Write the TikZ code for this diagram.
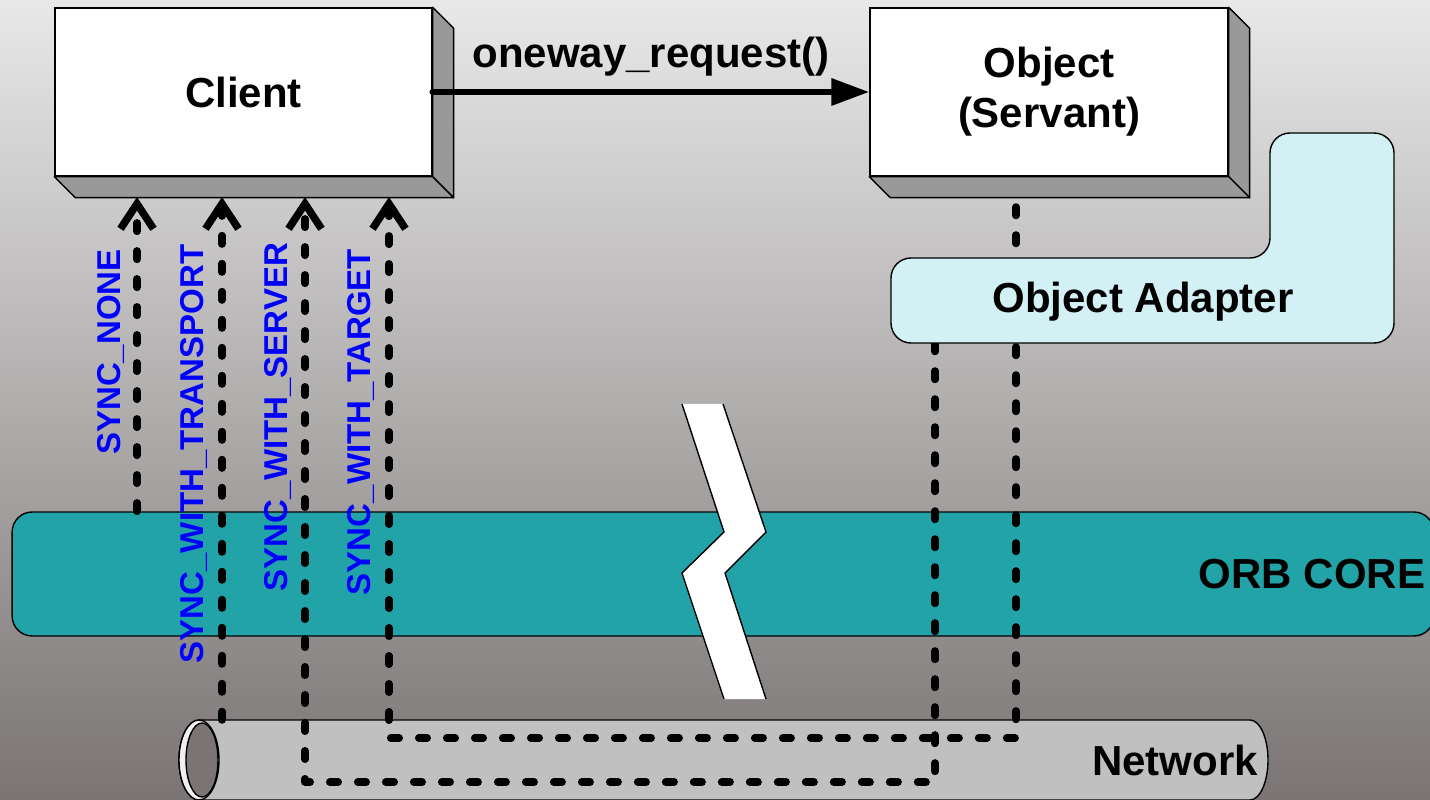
\documentclass[tikz,border=0pt]{standalone}
\usepackage{fontspec}
\setmainfont{Liberation Sans}
\usetikzlibrary{arrows.meta}

\definecolor{orbteal}{HTML}{21A3A8}
\definecolor{oacyan}{HTML}{D3F1F4}
\definecolor{boxside}{HTML}{999999}
\definecolor{pipegray}{HTML}{C0C0C0}
\definecolor{bgtop}{HTML}{E8E8E8}
\definecolor{bgmid}{HTML}{B2AEAE}
\definecolor{bgbot}{HTML}{7A7474}

\begin{document}
\begin{tikzpicture}[x=0.02cm, y=-0.02cm, line width=0.8pt,
  every node/.style={font=\fontsize{23.9}{28.5}\selectfont\bfseries},
  face/.style={draw, fill=white, inner sep=0pt, align=center},
  side/.style={draw, fill=boxside, line join=round},
  sync/.style={line width=0.15cm, dash pattern=on 0.17cm off 0.39cm, line cap=round, line join=round,
    -{Straight Barb[length=0.5cm,width=0.66cm]}},
  synclbl/.style={text=blue, rotate=90, anchor=base, inner sep=0pt, font=\fontsize{18.8}{22}\selectfont\bfseries}]
\useasboundingbox (0,0) rectangle (1430,800);
\shade[top color=bgtop, middle color=bgmid, bottom color=bgbot] (0,0) rectangle (1430,800);

% orb core and network
\node[draw, fill=orbteal, rounded corners=0.4cm, minimum width=28.44cm, minimum height=2.48cm] (orb) at (723,574) {};
\node (orblbl) at (1312,574) {ORB CORE};
\coordinate (nettop) at (199,720);
\draw[fill=pipegray] (nettop) -- (1250,720) arc[start angle=-90, end angle=90, x radius=18, y radius=40]
  -- (199,800) arc[start angle=90, end angle=270, x radius=20, y radius=40] -- cycle;
\draw[fill=gray!12] (199,760) ellipse[x radius=20, y radius=40];
\draw[fill=bgbot] (202,760) ellipse[x radius=16, y radius=37];
\node (net) at (1175,760) {Network};

% break
\fill[white] (682,404) -- (723,404) -- (766,532) -- (725,573) -- (766,699) -- (724,699) -- (682,573) -- (724,532) -- cycle;
\draw (682,404) -- (724,532) -- (682,573) -- (724,699);
\draw (723,404) -- (766,532) -- (725,573) -- (766,699);

% sync scopes
\coordinate (tipnone) at (137,197);
\coordinate (tiptrans) at (222,197);
\coordinate (tipsrv) at (305,197);
\coordinate (tiptgt) at (389,197);
\coordinate (oafoot) at (935,343);
\coordinate (objfoot) at (1016,207);
\draw[sync] (orb.north -| tipnone) -- (tipnone);
\draw[sync] (nettop -| tiptrans) -- (tiptrans);
\draw[sync] (oafoot) -- ++(0,439) -| (tipsrv);
\draw[sync] (objfoot) -- ++(0,531) -| (tiptgt);
\node[synclbl] (lnone) at (120,352) {SYNC\_NONE};
\node[synclbl] (ltrans) at (203,454) {SYNC\_WITH\_TRANSPORT};
\node[synclbl] (lsrv) at (287,417) {SYNC\_WITH\_SERVER};
\node[synclbl] (ltgt) at (370,422) {SYNC\_WITH\_TARGET};

% object adapter
\draw[fill=oacyan, rounded corners=0.4cm] (891,258) -- (1270,258) -- (1270,133) -- (1394,133) -- (1394,343) -- (891,343) -- cycle;
\node (oa) at (1143,302) {Object Adapter};

% client and servant
\node[face, minimum width=7.54cm, minimum height=3.36cm] (client) at (243.5,92) {Client};
\node[face, minimum width=7.16cm, minimum height=3.36cm] (obj) at (1049,92) {Object\\(Servant)};
\foreach \b in {client,obj} {
  \draw[side] (\b.north east) -- ++(21,21) -- ([shift={(21,21)}]\b.south east) -- (\b.south east) -- cycle;
  \draw[side] (\b.south west) -- ++(21,21) -- ([shift={(21,21)}]\b.south east) -- (\b.south east) -- cycle;
}
\draw[line width=0.13cm, line cap=round, -{Triangle[length=0.76cm,width=0.52cm]}] (client.east) -- (obj.west)
  node[midway, yshift=0.7cm] (req) {oneway\_request()};
\end{tikzpicture}
\end{document}
